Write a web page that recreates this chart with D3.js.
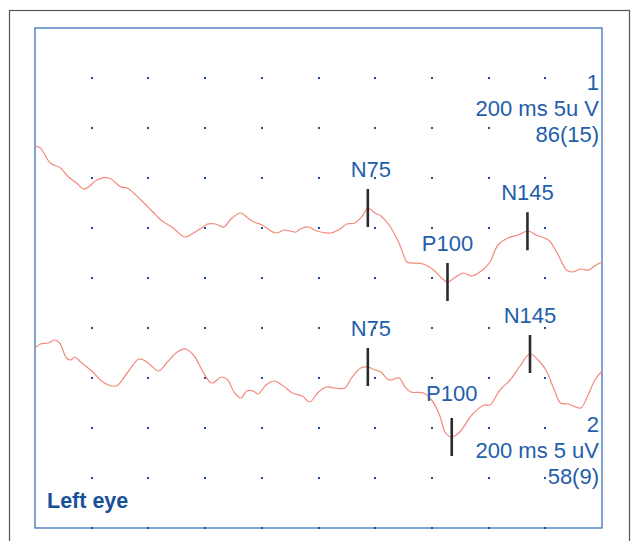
<!DOCTYPE html>
<html>
<head>
<meta charset="utf-8">
<script src="https://cdn.jsdelivr.net/npm/d3@7"></script>
<style>
  body { margin: 0; background: #fff; }
  text { font-family: "Liberation Sans", Arial, sans-serif; }
</style>
</head>
<body>
<div id="chart"></div>
<script>
// Sweep time (ms) and amplitude (uV, relative to the trace baseline)
const trace1Ms = [0, 1.9, 5.4, 9.0, 11.8, 14.7, 17.1, 18.9, 21.8, 26.1, 30.3, 32.5, 37.4, 41.6, 44.4, 48.7,
  52.8, 55.9, 58.8, 60.9, 63.7, 66.6, 69.5, 72.5, 75.1, 77.2, 80.1, 85.0, 87.8, 89.9, 92.1, 93.6, 96.5,
  99.3, 104.3, 107.1, 110.0, 112.8, 115.7, 117.4, 119.9, 122.0, 124.9, 128.4, 131.2, 132.6, 136.9, 140.6,
  143.4, 145.5, 148.4, 151.2, 154.1, 158.3, 160.5, 163.3, 166.8, 170.4, 173.9, 176.8, 181.1, 184.0, 187.5,
  189.6, 192.5, 195.3, 197.9, 200];
const trace1Uv = [8.2, 8.0, 6.5, 6.0, 5.1, 4.5, 3.9, 4.1, 4.8, 5.0, 4.1, 4.0, 2.8, 1.6, 0.8, 0.0,
  -0.9, -0.5, 0.0, 0.4, 0.4, 0.1, 1.0, 1.5, 1.0, 0.6, 0.3, -0.5, -0.2, -0.3, -0.4, -0.1, 0.1,
  -0.3, -0.5, -0.2, 0.4, 0.5, 1.3, 2.0, 1.5, 1.2, 0.3, -1.5, -3.4, -3.5, -3.6, -4.2,
  -5.0, -5.4, -4.9, -4.5, -4.8, -4.1, -3.4, -1.7, -1.0, -0.7, -0.3, -0.7, -1.2, -2.4, -4.2,
  -4.4, -4.1, -4.2, -3.7, -3.4];

const trace2Ms = [0, 1.9, 4.7, 6.8, 8.7, 11.1, 12.6, 14.0, 16.1, 20.4, 23.9, 28.6, 32.5, 36.7, 39.5, 43.6,
  46.7, 50.2, 53.1, 55.9, 59.5, 62.3, 65.9, 68.0, 70.2, 72.7, 74.7, 77.0, 78.7, 81.5, 84.3, 87.1, 90.8,
  94.3, 96.9, 100.0, 102.9, 105.7, 109.3, 111.4, 114.9, 117.4, 119.9, 122.0, 124.9, 128.4, 130.5, 132.6,
  137.0, 139.9, 142.7, 144.8, 147.0, 149.8, 154.1, 158.4, 160.5, 164.0, 167.6, 171.1, 174.6, 178.1,
  180.4, 183.2, 185.4, 188.2, 192.5, 194.6, 197.5, 200];
const trace2Uv = [3.0, 3.4, 3.5, 3.8, 3.5, 2.0, 1.8, 2.1, 1.6, 0.6, -0.4, -0.8, 0.5, 1.9, 1.6, 0.7,
  1.6, 2.6, 2.9, 2.3, 0.5, -0.5, 0.1, -0.2, -1.4, -2.0, -1.3, -1.3, -1.6, -0.7, -0.3, -0.7, -1.5,
  -1.8, -2.4, -1.4, -0.9, -1.0, -1.0, -0.1, 1.0, 1.1, 0.8, 0.6, -0.2, 0.0, -0.9, -1.4,
  -1.5, -2.2, -3.7, -5.5, -5.9, -5.4, -3.7, -2.7, -2.7, -1.2, -0.2, 1.2, 2.4, 1.6,
  0.7, -1.2, -2.5, -2.6, -3.0, -2.0, -0.2, 0.7];

// Peak markers
const peakNames = ["N75", "P100", "N145"];
const trace1PeakMs = [117.4, 145.5, 173.7];
const trace2PeakMs = [117.4, 147.0, 174.6];

// Trace info text
const trace1Info = ["1", "200 ms 5u V", "86(15)"];
const trace2Info = ["2", "200 ms 5 uV", "58(9)"];
const panelTitle = "Left eye";

// Baselines of the two traces on the panel (uV from panel centre)
const traceBaseline = [5, -10];

const width = 631, height = 541;
const box = { left: 35, top: 28, right: 602, bottom: 528 };

const svg = d3.select("#chart").append("svg")
  .attr("width", width)
  .attr("height", height);

// Scales: 10 divisions of 20 ms across, 10 divisions of 5 uV down
const x = d3.scaleLinear().domain([0, 200]).range([box.left, box.right]);
const y = d3.scaleLinear().domain([-25, 25]).range([box.bottom, box.top]);

// Outer frame
svg.append("rect")
  .attr("x", 9.5).attr("y", 10.5)
  .attr("width", 620).attr("height", 560)
  .attr("fill", "none")
  .attr("stroke", "#555")
  .attr("stroke-width", 1.2);

// Panel frame
svg.append("rect")
  .attr("x", box.left).attr("y", box.top)
  .attr("width", box.right - box.left).attr("height", box.bottom - box.top)
  .attr("fill", "none")
  .attr("stroke", "#2a68b5")
  .attr("stroke-width", 1.2);

// Dot grid
const gridMs = d3.range(20, 200, 20);
const gridUv = d3.range(20, -26, -5);
const dots = [];
gridUv.forEach(v => gridMs.forEach(t => dots.push([t, v])));
svg.append("g").selectAll("rect")
  .data(dots)
  .join("rect")
  .attr("x", d => Math.round(x(d[0])) - 1)
  .attr("y", d => Math.round(y(d[1])) - 1)
  .attr("width", 2)
  .attr("height", 2)
  .attr("fill", "#1a4f9c");

const traces = [
  { ms: trace1Ms, uv: trace1Uv, base: traceBaseline[0], peaks: trace1PeakMs },
  { ms: trace2Ms, uv: trace2Uv, base: traceBaseline[1], peaks: trace2PeakMs }
];

const line = d3.line()
  .x(d => x(d[0]))
  .y(d => y(d[1]))
  .curve(d3.curveCatmullRom.alpha(0.5));

traces.forEach((tr, ti) => {
  const pts = tr.ms.map((t, i) => [t, tr.uv[i] + tr.base]);
  svg.append("path")
    .datum(pts)
    .attr("fill", "none")
    .attr("stroke", "#f2897c")
    .attr("stroke-width", 1.2)
    .attr("d", line);

  // Amplitude at a given time, linearly interpolated
  const at = t => {
    const i = d3.bisectLeft(tr.ms, t);
    if (i <= 0) return pts[0][1];
    const t0 = tr.ms[i - 1], t1 = tr.ms[i];
    const k = (t - t0) / (t1 - t0);
    return pts[i - 1][1] + k * (pts[i][1] - pts[i - 1][1]);
  };

  tr.peaks.forEach((t, pi) => {
    const cy = y(at(t));
    svg.append("line")
      .attr("x1", x(t)).attr("x2", x(t))
      .attr("y1", cy - 19).attr("y2", cy + 19)
      .attr("stroke", "#2b2b2b")
      .attr("stroke-width", 2.6);

    const gap = (ti === 1 && pi === 1) ? 17 : 12;
    svg.append("text")
      .attr("x", x(t) + (pi === 0 ? 3 : 0))
      .attr("y", cy - 19 - gap)
      .attr("text-anchor", "middle")
      .attr("fill", "#1f5eab")
      .attr("font-size", 22)
      .text(peakNames[pi]);
  });
});

// Info text blocks (right aligned)
[[trace1Info, 90], [trace2Info, 432]].forEach(([lines, top]) => {
  svg.append("g").selectAll("text")
    .data(lines)
    .join("text")
    .attr("x", box.right - 3)
    .attr("y", (d, i) => top + i * 26)
    .attr("text-anchor", "end")
    .attr("fill", "#1f5eab")
    .attr("font-size", 22)
    .text(d => d);
});

svg.append("text")
  .attr("x", 47)
  .attr("y", 508)
  .attr("fill", "#174f9a")
  .attr("font-size", 21.5)
  .attr("font-weight", "bold")
  .text(panelTitle);
</script>
</body>
</html>
